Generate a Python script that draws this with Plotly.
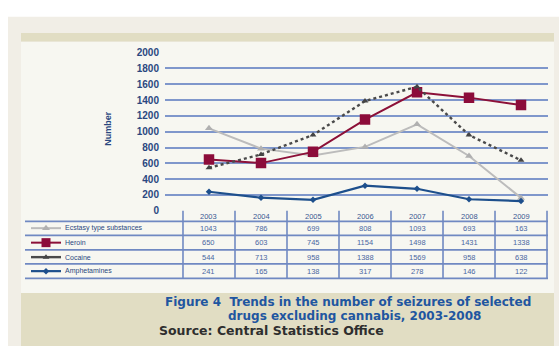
import plotly.graph_objects as go

# ---- data -------------------------------------------------------------
years = ["2003", "2004", "2005", "2006", "2007", "2008", "2009"]
series_names = ["Ecstasy type substances", "Heroin", "Cocaine", "Amphetamines"]
ecstasy = [1043, 786, 699, 808, 1093, 693, 163]
heroin = [650, 603, 745, 1154, 1498, 1431, 1338]
cocaine = [544, 713, 958, 1388, 1569, 958, 638]
amphetamines = [241, 165, 138, 317, 278, 146, 122]
y_ticks = [0, 200, 400, 600, 800, 1000, 1200, 1400, 1600, 1800, 2000]

W, H = 559, 352


def px(x):
    return x / W


def py(y):
    return 1 - y / H


styles = [
    dict(color="#bcbcbc", width=2, dash="solid", symbol="triangle-up", msize=7, mcolor="#b0b0b0"),
    dict(color="#8c1038", width=2, dash="solid", symbol="square", msize=10.5, mcolor="#8c0c3a"),
    dict(color="#4a4a4a", width=2.4, dash="dot", symbol="triangle-up", msize=6, mcolor="#444444"),
    dict(color="#1d4f8c", width=2.2, dash="solid", symbol="diamond", msize=5, mcolor="#1d4f8c"),
]
values = [ecstasy, heroin, cocaine, amphetamines]

fig = go.Figure()

x_idx = list(range(len(years)))
for name, vals, st in zip(series_names, values, styles):
    fig.add_trace(go.Scatter(
        x=x_idx, y=vals, name=name, mode="lines+markers",
        line=dict(color=st["color"], width=st["width"], dash=st["dash"]),
        marker=dict(symbol=st["symbol"], size=st["msize"], color=st["mcolor"]),
        xaxis="x", yaxis="y", showlegend=False, hoverinfo="skip",
    ))

# ---- background panels -------------------------------------------------
shapes = []


def rect(x0, y0, x1, y1, color):
    shapes.append(dict(type="rect", xref="paper", yref="paper",
                       x0=px(x0), x1=px(x1), y0=py(y1), y1=py(y0),
                       fillcolor=color, line=dict(width=0), layer="below"))


rect(8, 11, 559, 352, "#f1eee6")
rect(21, 28, 554, 37, "#e1ddc3")
rect(21, 37, 554, 297, "#f7f7f1")
rect(21, 297, 554, 352, "#e1ddc3")

# ---- data table under the x axis ------------------------------------------
line_col = "#7089c2"
row_lines = [223, 237.5, 252.5, 267, 282]
row_centers = [230, 245, 260, 274.5]
for yl in row_lines:
    shapes.append(dict(type="line", xref="paper", yref="paper",
                       x0=px(25), x1=px(548), y0=py(yl), y1=py(yl),
                       line=dict(color=line_col, width=1.6)))
for i in range(len(years) + 1):
    shapes.append(dict(type="line", xref="x", yref="paper",
                       x0=i - 0.5, x1=i - 0.5, y0=py(212), y1=py(282),
                       line=dict(color=line_col, width=1.6)))

annotations = []
for i, yr in enumerate(years):
    annotations.append(dict(x=i, y=py(217.5), xref="x", yref="paper", text=yr,
                            showarrow=False, yanchor="middle",
                            font=dict(size=7.5, color="#3a5792", family="Liberation Sans")))
for vals, yc in zip(values, row_centers):
    for i, v in enumerate(vals):
        annotations.append(dict(x=i, y=py(yc), xref="x", yref="paper", text=str(v),
                                showarrow=False, yanchor="middle",
                                font=dict(size=7.5, color="#4a67a2", family="Liberation Sans")))

# legend keys in the first table column (drawn on a full-page pixel axis)
for name, st, yc in zip(series_names, styles, row_centers):
    fig.add_trace(go.Scatter(
        x=[31, 61], y=[yc, yc], mode="lines", xaxis="x2", yaxis="y2",
        line=dict(color=st["color"], width=st["width"]),
        showlegend=False, hoverinfo="skip"))
    fig.add_trace(go.Scatter(
        x=[46], y=[yc], mode="markers", xaxis="x2", yaxis="y2",
        marker=dict(symbol=st["symbol"], size=min(st["msize"], 9), color=st["mcolor"]),
        showlegend=False, hoverinfo="skip"))
    annotations.append(dict(x=px(63), y=py(yc), xref="paper", yref="paper", text=name,
                            xanchor="left", yanchor="middle", showarrow=False,
                            font=dict(size=7, color="#2a477f", family="Liberation Sans")))

# y axis title
annotations.append(dict(x=px(101), y=py(127), xref="paper", yref="paper",
                        text="<b>Number</b>", textangle=-90, showarrow=False,
                        font=dict(size=9, color="#2a477f", family="Liberation Sans")))

# caption
cap_col = "#1f56a0"
annotations.append(dict(x=px(348), y=py(306), xref="paper", yref="paper",
                        text="<b>Figure 4  Trends in the number of seizures of selected</b>",
                        showarrow=False, yanchor="middle",
                        font=dict(size=12, color=cap_col, family="DejaVu Sans")))
annotations.append(dict(x=px(354), y=py(321), xref="paper", yref="paper",
                        text="<b>drugs excluding cannabis, 2003-2008</b>",
                        showarrow=False, yanchor="middle",
                        font=dict(size=12, color=cap_col, family="DejaVu Sans")))
annotations.append(dict(x=px(157), y=py(336), xref="paper", yref="paper",
                        text="<b>Source: Central Statistics Office</b>", xanchor="left",
                        yanchor="middle", showarrow=False,
                        font=dict(size=12.5, color="#2e2e2e", family="DejaVu Sans")))

fig.update_layout(
    width=W, height=H,
    margin=dict(l=0, r=0, t=0, b=0),
    paper_bgcolor="#ffffff",
    plot_bgcolor="rgba(0,0,0,0)",
    shapes=shapes,
    annotations=annotations,
    xaxis=dict(domain=[px(165), px(548)], range=[-0.846, 6.519],
               showgrid=False, zeroline=False, showticklabels=False,
               showline=False, fixedrange=True),
    yaxis=dict(domain=[py(212), py(48.3)], range=[0, 2000],
               tickvals=y_ticks, ticktext=["<b>%d</b>" % t for t in y_ticks],
               showgrid=True, gridcolor="#7f97cb", gridwidth=1.5,
               zeroline=False, showline=False, ticks="",
               ticklabelstandoff=5,
               tickfont=dict(size=10, color="#2a477f", family="Liberation Sans"),
               fixedrange=True),
    xaxis2=dict(domain=[0, 1], range=[0, W], visible=False, anchor="y2",
                fixedrange=True),
    yaxis2=dict(domain=[0, 1], range=[H, 0], visible=False, anchor="x2",
                fixedrange=True),
)

fig.write_html("out.html")
